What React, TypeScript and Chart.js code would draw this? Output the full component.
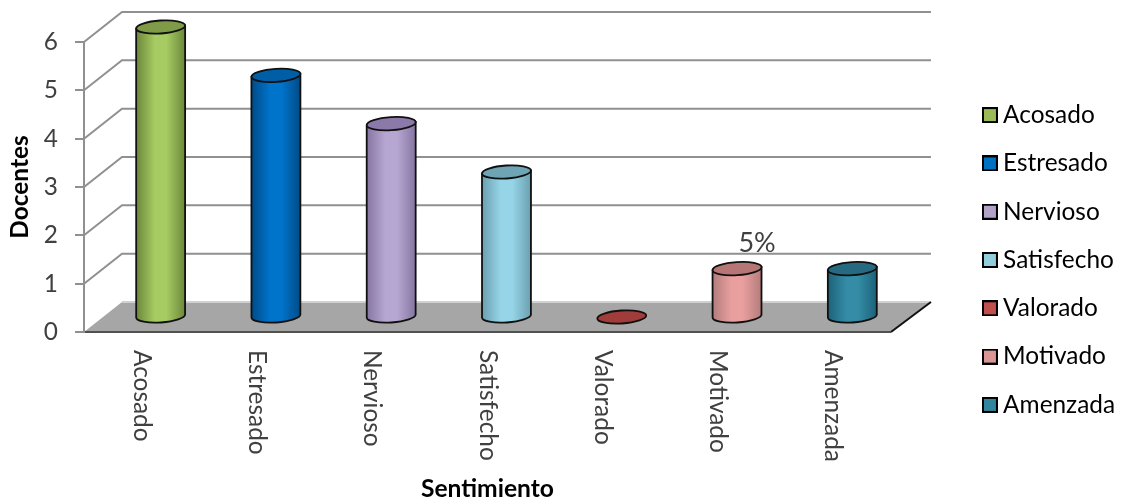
import React, { useEffect, useRef } from "react";
import { Chart, registerables } from "chart.js";

Chart.register(...registerables);

const categories = ["Acosado", "Estresado", "Nervioso", "Satisfecho", "Valorado", "Motivado", "Amenzada"];
const docentes = [6, 5, 4, 3, 0, 1, 1];
const dataLabels = ["", "", "", "", "", "5%", ""];
const yTicks = [0, 1, 2, 3, 4, 5, 6];
const legendColors = ["#9bbb59", "#0070c0", "#b3a2c7", "#92cddc", "#c0504d", "#d99694", "#31859c"];
const edgeColors = ["#6c873a", "#004b86", "#8575a0", "#6a9fb0", "#8e3532", "#b27c7b", "#1c6279"];
const centerColors = ["#a6cb62", "#0073cb", "#b6a6d2", "#96d5e7", "#c0504d", "#e89f9e", "#348ca6"];
const topColors = ["#7f9b48", "#005ea6", "#8a79a9", "#6fa4b5", "#a03c39", "#b57675", "#256a80"];

const FONT = "Lato, 'Open Sans', sans-serif";
const DEPTH_X = 38;
const DEPTH_Y = 30;
const GRID = "#909090";

function legendSwatch(color: string) {
  const c = document.createElement("canvas");
  c.width = 16;
  c.height = 16;
  const g = c.getContext("2d")!;
  g.fillStyle = "#000";
  g.fillRect(0, 0, 16, 16);
  g.fillStyle = color;
  g.fillRect(2, 2, 12, 12);
  return c;
}

const wallAndFloor = {
  id: "wallAndFloor",
  beforeDraw(chart: any) {
    const { ctx, chartArea: a, scales } = chart;
    const y0 = scales.y.getPixelForValue(0);
    ctx.save();
    ctx.fillStyle = "#a6a6a6";
    ctx.beginPath();
    ctx.moveTo(a.left, y0);
    ctx.lineTo(a.left + DEPTH_X, y0 - DEPTH_Y);
    ctx.lineTo(a.right + DEPTH_X + 2, y0 - DEPTH_Y);
    ctx.lineTo(a.right, y0);
    ctx.closePath();
    ctx.fill();
    ctx.strokeStyle = GRID;
    ctx.lineWidth = 2;
    for (const v of yTicks) {
      if (v === 0) continue;
      const y = scales.y.getPixelForValue(v);
      ctx.beginPath();
      ctx.moveTo(a.left, y);
      ctx.lineTo(a.left + DEPTH_X, y - DEPTH_Y);
      ctx.lineTo(a.right + DEPTH_X + 2, y - DEPTH_Y);
      ctx.stroke();
    }
    ctx.strokeStyle = "#d0d0d0";
    ctx.beginPath();
    ctx.moveTo(a.left + DEPTH_X, y0 - DEPTH_Y);
    ctx.lineTo(a.right + DEPTH_X + 2, y0 - DEPTH_Y);
    ctx.stroke();
    ctx.strokeStyle = "#111";
    ctx.beginPath();
    ctx.moveTo(a.right, y0);
    ctx.lineTo(a.right + DEPTH_X + 2, y0 - DEPTH_Y);
    ctx.stroke();
    ctx.restore();
  },
};

const cylinders = {
  id: "cylinders",
  beforeDatasetDraw() {
    return false;
  },
  afterDatasetsDraw(chart: any) {
    const { ctx } = chart;
    const meta = chart.getDatasetMeta(0);
    const tilt = -0.065;
    meta.data.forEach((el: any, i: number) => {
      const cx = el.x + DEPTH_X / 2;
      const rx = el.width / 2;
      const ry = 6.5;
      const yTop = el.y - DEPTH_Y / 2;
      const yBase = el.base - DEPTH_Y / 2;
      const dy = Math.sin(tilt) * rx;
      ctx.save();
      ctx.lineWidth = 1.8;
      ctx.strokeStyle = "#101010";
      if (yBase - yTop > 1) {
        const g = ctx.createLinearGradient(cx - rx, 0, cx + rx, 0);
        g.addColorStop(0, edgeColors[i]);
        g.addColorStop(0.38, centerColors[i]);
        g.addColorStop(0.62, centerColors[i]);
        g.addColorStop(1, edgeColors[i]);
        ctx.fillStyle = g;
        ctx.beginPath();
        ctx.moveTo(cx - rx, yTop - dy);
        ctx.ellipse(cx, yBase, rx, ry, tilt, Math.PI, 0, true);
        ctx.lineTo(cx + rx, yTop + dy);
        ctx.closePath();
        ctx.fill();
        ctx.stroke();
      }
      ctx.fillStyle = topColors[i];
      ctx.beginPath();
      ctx.ellipse(cx, yTop, rx, ry, tilt, 0, Math.PI * 2);
      ctx.fill();
      ctx.stroke();
      if (dataLabels[i]) {
        ctx.fillStyle = "#404040";
        ctx.font = `27px ${FONT}`;
        ctx.textAlign = "center";
        ctx.textBaseline = "middle";
        ctx.fillText(dataLabels[i], cx + 20, yTop - 25);
      }
      ctx.restore();
    });
  },
};

const moveLegend = {
  id: "moveLegend",
  afterLayout(chart: any) {
    const l = chart.legend;
    const w = l.right - l.left;
    l.left = 965;
    l.right = 965 + w;
    l.top = 79;
  },
};

export default function App() {
  const ref = useRef<HTMLCanvasElement>(null);
  useEffect(() => {
    const chart = new Chart(ref.current!, {
      type: "bar",
      data: {
        labels: categories,
        datasets: [
          {
            label: "Docentes",
            data: docentes,
            backgroundColor: legendColors,
            barPercentage: 0.425,
            categoryPercentage: 1,
          },
        ],
      },
      plugins: [wallAndFloor, cylinders, moveLegend],
      options: {
        responsive: false,
        animation: false,
        layout: { padding: { left: 0, top: 42, right: 73, bottom: 0 } },
        plugins: {
          tooltip: { enabled: false },
          title: { display: false },
          legend: {
            position: "right",
            align: "start",
            labels: {
              usePointStyle: true,
              pointStyleWidth: 2,
              boxHeight: 14,
              padding: 23.9,
              color: "#404040",
              font: { family: FONT, size: 24.4 },
              generateLabels: () =>
                categories.map((c, i) => ({
                  text: c,
                  fillStyle: legendColors[i],
                  strokeStyle: "#000",
                  lineWidth: 2,
                  pointStyle: legendSwatch(legendColors[i]),
                  index: i,
                  datasetIndex: 0,
                })),
            },
          },
        },
        scales: {
          x: {
            beforeUpdate(s: any) {
              s._getXAxisLabelAlignment = () => "left";
            },
            afterFit(s: any) {
              s.height = 169;
            },
            grid: { display: false, drawTicks: false },
            border: { display: true, color: "#505050", width: 2 },
            ticks: {
              autoSkip: false,
              minRotation: -90,
              maxRotation: -90,
              padding: 18,
              color: "#404040",
              font: { family: FONT, size: 24.4 },
            },
            title: {
              display: true,
              text: "Sentimiento",
              color: "#000",
              font: { family: FONT, size: 24.6, weight: "bold" },
              padding: { top: 0, bottom: -3 },
            },
          },
          y: {
            min: 0,
            max: 6,
            afterFit(s: any) {
              s.width = 84;
            },
            grid: { drawOnChartArea: false, color: GRID, tickLength: 9, lineWidth: 2 },
            border: { display: true, color: GRID, width: 2 },
            ticks: {
              stepSize: 1,
              padding: 17,
              color: "#404040",
              font: { family: FONT, size: 24.4 },
            },
            title: {
              display: true,
              text: "Docentes",
              color: "#000",
              font: { family: FONT, size: 24.4, weight: "bold" },
              padding: { top: 6, bottom: 0 },
            },
          },
        },
      } as any,
    });
    return () => chart.destroy();
  }, []);
  return (
    <div style={{ position: "fixed", left: 0, top: 0, width: 1124, height: 501, background: "#fff" }}>
      <canvas ref={ref} width={1124} height={501} style={{ display: "block", filter: "blur(0.4px)" }} />
    </div>
  );
}
